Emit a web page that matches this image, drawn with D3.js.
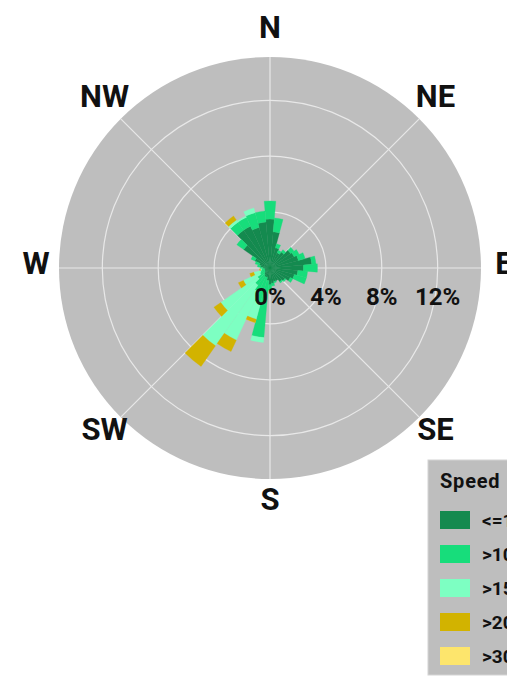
<!DOCTYPE html>
<html>
<head>
<meta charset="utf-8">
<script src="https://cdn.jsdelivr.net/npm/d3@7"></script>
<style>
  html, body { margin: 0; padding: 0; background: #ffffff; }
  svg { display: block; }
  text { font-family: Roboto, "DejaVu Sans", sans-serif; }
</style>
</head>
<body>
<svg id="chart" width="507" height="680"></svg>
<script>
// ---- data ----
const directions = [0,10,20,30,40,50,60,70,80,90,100,110,120,130,140,150,160,170,
                    180,190,200,210,220,230,240,250,260,270,280,290,300,310,320,330,340,350];
const speedBins = ["<=10", ">10", ">15", ">20", ">30"];
const binColors = ["#148a4f", "#17dd7b", "#7dffc2", "#d2b300", "#fde56c"];
// percent frequency per direction for each speed bin
const s_le10 = [3.5,2.6,1.5,1.2,1.4,1.8,1.9,2.1,3.0,2.4,2.0,1.8,1.6,1.3,1.2,1.0,1.0,1.1,
                1.2,0.9,0.7,0.7,0.6,0.5,0.4,0.4,0.4,0.5,0.7,0.8,1.2,2.3,3.3,3.3,3.0,3.3];
const s_gt10 = [1.3,1.0,0.3,0.2,0.2,0.3,0.4,0.5,0.3,1.0,0.7,0.9,0.2,0.1,0.1,0.0,0.1,0.2,
                0.4,4.1,1.9,1.2,0.9,0.6,0.4,0.3,0.2,0.2,0.2,0.3,0.3,0.6,0.7,0.7,1.1,0.8];
const s_gt15 = [0,0,0,0,0,0,0,0,0,0,0,0,0,0,0,0,0,0,
                0,0.35,1.2,3.8,5.3,3.2,1.3,0.5,0.1,0,0,0,0,0,0.2,0.1,0.35,0];
const s_gt20 = [0,0,0,0,0,0,0,0,0,0,0,0,0,0,0,0,0,0,
                0,0,0.25,0.9,1.8,0.6,0.4,0.3,0.05,0,0,0,0,0,0.35,0,0,0];
const s_gt30 = [0,0,0,0,0,0,0,0,0,0,0,0,0,0,0,0,0,0,
                0,0,0,0,0,0,0,0,0,0,0,0,0,0,0,0,0,0];
const radialTicks = [0, 4, 8, 12];
const compass = ["N","NE","E","SE","S","SW","W","NW"];

// ---- layout ----
const svg = d3.select("#chart");
const cx = 270, cy = 268, outerR = 211;
const rScale = d3.scaleLinear().domain([0, 15.1]).range([0, outerR]);
const step = 2 * Math.PI / directions.length;
const aScale = d3.scaleBand().domain(directions)
  .range([-step / 2, 2 * Math.PI - step / 2]).padding(0);

const g = svg.append("g").attr("transform", `translate(${cx},${cy})`);

// background disc
g.append("circle").attr("r", outerR).attr("fill", "#bebebe");

// rings
g.selectAll(".ring").data(radialTicks.filter(d => d > 0)).join("circle")
  .attr("r", d => rScale(d)).attr("fill", "none")
  .attr("stroke", "#e8e8e8").attr("stroke-width", 1.2);

// spokes
const compassAngle = d3.scaleLinear().domain([0, 8]).range([0, 2 * Math.PI]);
g.selectAll(".spoke").data(compass).join("line")
  .attr("x1", 0).attr("y1", 0)
  .attr("x2", (d, i) => outerR * Math.sin(compassAngle(i)))
  .attr("y2", (d, i) => -outerR * Math.cos(compassAngle(i)))
  .attr("stroke", "#e8e8e8").attr("stroke-width", 1.2);

// stacked bars
const rows = directions.map((d, i) => ({
  dir: d, "<=10": s_le10[i], ">10": s_gt10[i], ">15": s_gt15[i], ">20": s_gt20[i], ">30": s_gt30[i]
}));
const stacked = d3.stack().keys(speedBins)(rows);
const arc = d3.arc()
  .innerRadius(d => rScale(d[0]))
  .outerRadius(d => rScale(d[1]))
  .startAngle(d => aScale(d.data.dir))
  .endAngle(d => aScale(d.data.dir) + aScale.bandwidth())
  .padAngle(0);

stacked.forEach((layer, k) => {
  g.append("g").selectAll("path").data(layer.filter(d => d[1] - d[0] > 0)).join("path")
    .attr("d", arc)
    .attr("fill", binColors[k])
    .attr("stroke", binColors[k])
    .attr("stroke-width", 0.3);
});

// radial tick labels
g.selectAll(".rlab").data(radialTicks).join("text")
  .attr("x", d => rScale(d)).attr("y", 37)
  .attr("text-anchor", "middle")
  .attr("font-size", 24).attr("font-weight", 700).attr("fill", "#111")
  .text(d => d + "%");

// compass labels
g.selectAll(".clab").data(compass).join("text")
  .attr("x", (d, i) => 234 * Math.sin(compassAngle(i)))
  .attr("y", (d, i) => -236 * Math.cos(compassAngle(i)) - 5)
  .attr("text-anchor", "middle").attr("dominant-baseline", "central")
  .attr("font-size", 31).attr("font-weight", 700).attr("fill", "#111")
  .text(d => d);

// legend
const lg = svg.append("g").attr("transform", "translate(428,460)");
lg.append("rect").attr("x", 0).attr("y", 0).attr("width", 100).attr("height", 215)
  .attr("fill", "#bebebe").attr("stroke", "#d4d4d4").attr("stroke-width", 1);
lg.append("text").attr("x", 12).attr("y", 28).attr("font-size", 20).attr("font-weight", 700)
  .attr("letter-spacing", 0.8).attr("fill", "#111").text("Speed");
const items = lg.selectAll(".li").data(speedBins).join("g")
  .attr("transform", (d, i) => `translate(12,${51 + i * 34})`);
items.append("rect").attr("width", 30).attr("height", 18)
  .attr("fill", (d, i) => binColors[i]);
items.append("text").attr("x", 42).attr("y", 9).attr("dominant-baseline", "central")
  .attr("font-size", 19).attr("font-weight", 700).attr("fill", "#111")
  .text(d => d);
</script>
</body>
</html>
